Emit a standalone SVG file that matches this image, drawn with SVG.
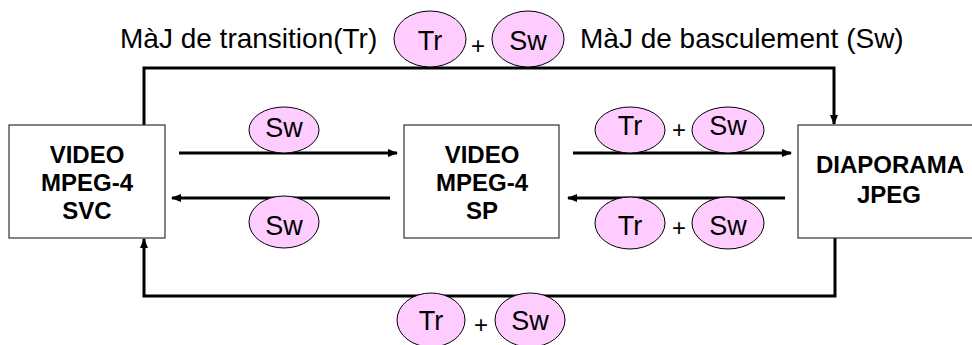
<svg xmlns="http://www.w3.org/2000/svg" width="972" height="345" viewBox="0 0 972 345">
  <defs>
    <marker id="arrow" viewBox="0 0 10 8" refX="9" refY="4" markerWidth="10" markerHeight="8" markerUnits="userSpaceOnUse" orient="auto">
      <path d="M0,0 L10,4 L0,8 z" fill="#000"/>
    </marker>
  </defs>
  <style>
    .box { fill: #fff; stroke: #333; stroke-width: 1.2; }
    .title { font-family: "Liberation Sans", Arial, sans-serif; font-weight: bold; font-size: 24px; text-anchor: middle; fill: #000; }
    .link { fill: none; stroke: #000; stroke-width: 3; marker-end: url(#arrow); }
    .tag { fill: #ffccff; stroke: #000; stroke-width: 1; }
    .tagtxt { font-family: "Liberation Sans", Arial, sans-serif; font-size: 27px; text-anchor: middle; fill: #000; }
    .plus { font-family: "Liberation Sans", Arial, sans-serif; font-size: 24px; text-anchor: middle; fill: #000; }
    .lbl { font-family: "Liberation Sans", Arial, sans-serif; font-size: 28px; fill: #000; }
  </style>
  <rect width="972" height="345" fill="#fff"/>

  <!-- connectors -->
  <g id="connectors">
    <path class="link" d="M144,125 V68 H834 V124"/>
    <path class="link" d="M835,238 V296 H144 V239"/>
    <path class="link" d="M179,153 H397"/>
    <path class="link" d="M390,198 H172"/>
    <path class="link" d="M573,153 H791"/>
    <path class="link" d="M785,198 H568"/>
  </g>

  <!-- nodes -->
  <g id="node-svc">
    <rect class="box" x="9" y="125" width="156" height="113"/>
    <text class="title" x="87" y="163">VIDEO</text>
    <text class="title" x="87" y="191">MPEG-4</text>
    <text class="title" x="87" y="219">SVC</text>
  </g>
  <g id="node-sp">
    <rect class="box" x="404" y="125" width="155" height="113"/>
    <text class="title" x="482" y="163">VIDEO</text>
    <text class="title" x="482" y="191">MPEG-4</text>
    <text class="title" x="482" y="219">SP</text>
  </g>
  <g id="node-jpeg">
    <rect class="box" x="798" y="125" width="180" height="113"/>
    <text class="title" x="890" y="173">DIAPORAMA</text>
    <text class="title" x="889" y="203">JPEG</text>
  </g>

  <!-- update tags -->
  <g id="tags-top">
    <text class="lbl" x="120" y="48">MàJ de transition(Tr)</text>
    <ellipse class="tag" cx="430" cy="39" rx="36" ry="28"/>
    <text class="tagtxt" x="430" y="50">Tr</text>
    <text class="plus" x="478" y="54">+</text>
    <ellipse class="tag" cx="528" cy="39" rx="36" ry="28"/>
    <text class="tagtxt" x="528" y="50">Sw</text>
    <text class="lbl" x="580" y="48">MàJ de basculement (Sw)</text>
  </g>
  <g id="tags-svc-sp">
    <ellipse class="tag" cx="284" cy="130" rx="35" ry="23"/>
    <text class="tagtxt" x="284" y="137">Sw</text>
    <ellipse class="tag" cx="284" cy="222" rx="35" ry="26"/>
    <text class="tagtxt" x="284" y="235">Sw</text>
  </g>
  <g id="tags-sp-jpeg">
    <ellipse class="tag" cx="630" cy="130" rx="35" ry="23"/>
    <text class="tagtxt" x="630" y="135">Tr</text>
    <text class="plus" x="679" y="138">+</text>
    <ellipse class="tag" cx="728" cy="130" rx="36" ry="23"/>
    <text class="tagtxt" x="728" y="135">Sw</text>
    <ellipse class="tag" cx="630" cy="223" rx="35" ry="26"/>
    <text class="tagtxt" x="630" y="235">Tr</text>
    <text class="plus" x="679" y="236">+</text>
    <ellipse class="tag" cx="728" cy="223" rx="36" ry="26"/>
    <text class="tagtxt" x="728" y="235">Sw</text>
  </g>
  <g id="tags-bottom">
    <ellipse class="tag" cx="431" cy="320" rx="34" ry="27"/>
    <text class="tagtxt" x="431" y="330">Tr</text>
    <text class="plus" x="481" y="333">+</text>
    <ellipse class="tag" cx="530" cy="320" rx="35" ry="27"/>
    <text class="tagtxt" x="530" y="330">Sw</text>
  </g>
</svg>
